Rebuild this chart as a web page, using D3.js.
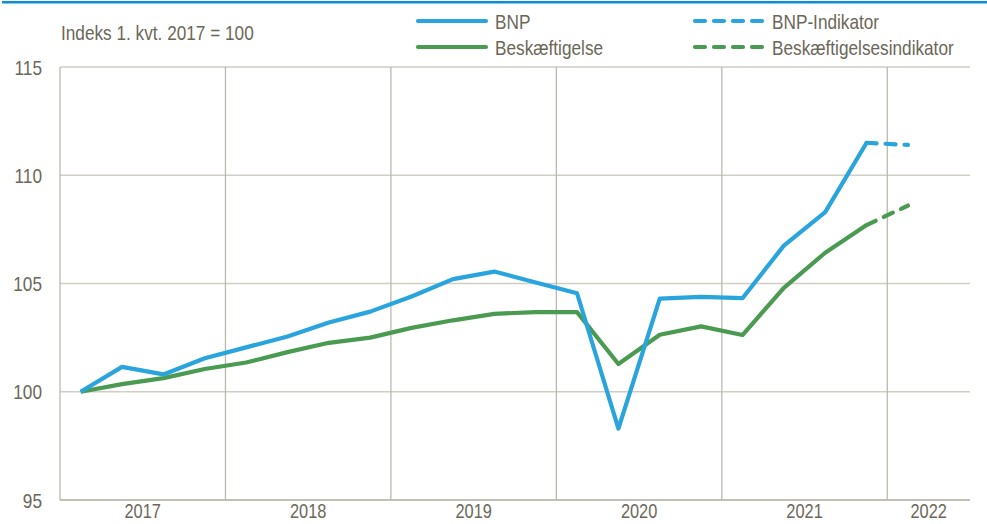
<!DOCTYPE html>
<html>
<head>
<meta charset="utf-8">
<script src="https://cdn.jsdelivr.net/npm/d3@7"></script>
<style>
  body { margin: 0; background: #fff; }
  svg text { font-family: "Liberation Sans", Arial, sans-serif; fill: #6b6758; font-size: 21px; }
</style>
</head>
<body>
<div class="chart"></div>
<script>
// quarters 2017K1 .. 2022K2 (last two only in 2022)
const quarters = ['2017K1','2017K2','2017K3','2017K4','2018K1','2018K2','2018K3','2018K4',
  '2019K1','2019K2','2019K3','2019K4','2020K1','2020K2','2020K3','2020K4',
  '2021K1','2021K2','2021K3','2021K4','2022K1','2022K2'];
const years = ['2017','2018','2019','2020','2021','2022'];
const yTicks = [95, 100, 105, 110, 115];

const bnp = [100, 101.15, 100.8, 101.55, 102.05, 102.55, 103.2, 103.7,
  104.4, 105.2, 105.55, 105.05, 104.55, 98.3, 104.3, 104.38,
  104.32, 106.75, 108.3, 111.5];
const beskaeft = [100, 100.35, 100.63, 101.05, 101.35, 101.83, 102.26, 102.5,
  102.95, 103.3, 103.6, 103.68, 103.68, 101.28, 102.63, 103.02,
  102.62, 104.8, 106.42, 107.7];
// indikatorer: 2021K4 -> 2022K1
const bnpInd = [111.5, 111.4];
const beskaeftInd = [107.7, 108.6];
const indStart = 19;

const W = 987, H = 524;
const margin = { top: 67, right: 17, bottom: 24, left: 60 };
const blue = '#29a4dd', green = '#4a9a52';
const squeeze = 0.82; // reference uses a narrow font

const svg = d3.select('.chart').append('svg')
  .attr('width', W).attr('height', H);

svg.append('rect').attr('x', 2).attr('y', 1).attr('width', W - 2).attr('height', 2.5)
  .attr('fill', '#0d8fd1');

const x = d3.scaleBand()
  .domain(quarters)
  .range([margin.left, W - margin.right]);

const y = d3.scaleLinear()
  .domain([95, 115])
  .range([H - margin.bottom, margin.top]);

const tr = (tx, ty) => `translate(${tx},${ty}) scale(${squeeze},1)`;

// horizontal grid
svg.append('g').selectAll('line')
  .data(yTicks)
  .enter().append('line')
  .attr('x1', margin.left).attr('x2', W - margin.right)
  .attr('y1', d => y(d)).attr('y2', d => y(d))
  .attr('stroke', d => d === 95 ? '#aeab9c' : '#cfcdc4')
  .attr('stroke-width', 1.3);

// vertical year separators
const yearStarts = quarters.filter(q => q.endsWith('K1'));
svg.append('g').selectAll('line')
  .data(yearStarts)
  .enter().append('line')
  .attr('x1', d => x(d)).attr('x2', d => x(d))
  .attr('y1', y(115)).attr('y2', y(95))
  .attr('stroke', '#bcb9ac')
  .attr('stroke-width', 1.3);

// y labels
svg.append('g').selectAll('text')
  .data(yTicks)
  .enter().append('text')
  .attr('transform', d => tr(42, y(d)))
  .attr('dy', '0.36em')
  .attr('text-anchor', 'end')
  .text(d => d);

// year labels at band centres
svg.append('g').selectAll('text')
  .data(years)
  .enter().append('text')
  .attr('transform', d => {
    const qs = quarters.filter(q => q.startsWith(d));
    return tr((x(qs[0]) + x(qs[qs.length - 1]) + x.bandwidth()) / 2, 518);
  })
  .attr('text-anchor', 'middle')
  .style('font-size', '20px')
  .text(d => d);

svg.append('text')
  .attr('transform', tr(61, 40))
  .text('Indeks 1. kvt. 2017 = 100');

const line = d3.line()
  .x(d => x(d.q) + x.bandwidth() / 2)
  .y(d => y(d.v));

function toPts(vals, offset) {
  return vals.map((v, i) => ({ q: quarters[i + offset], v: v }));
}

const series = [
  { vals: beskaeft, off: 0, color: green, dash: null },
  { vals: bnp, off: 0, color: blue, dash: null },
  { vals: beskaeftInd, off: indStart, color: green, dash: '10,9' },
  { vals: bnpInd, off: indStart, color: blue, dash: '10,9' }
];

svg.append('g').selectAll('path')
  .data(series)
  .enter().append('path')
  .attr('d', d => line(toPts(d.vals, d.off)))
  .attr('fill', 'none')
  .attr('stroke', d => d.color)
  .attr('stroke-width', 4.2)
  .attr('stroke-linejoin', 'round')
  .attr('stroke-linecap', d => d.dash ? 'round' : 'butt')
  .attr('stroke-dasharray', d => d.dash);

// legend
const legend = [
  { label: 'BNP', color: blue, dash: null, lx: 418, ly: 21 },
  { label: 'Beskæftigelse', color: green, dash: null, lx: 418, ly: 47 },
  { label: 'BNP-Indikator', color: blue, dash: '10,9', lx: 695, ly: 21 },
  { label: 'Beskæftigelsesindikator', color: green, dash: '10,9', lx: 695, ly: 47 }
];
const lg = svg.append('g').selectAll('g')
  .data(legend)
  .enter().append('g');
lg.append('line')
  .attr('x1', d => d.lx).attr('x2', d => d.lx + 68)
  .attr('y1', d => d.ly).attr('y2', d => d.ly)
  .attr('stroke', d => d.color)
  .attr('stroke-width', 4.2)
  .attr('stroke-linecap', 'round')
  .attr('stroke-dasharray', d => d.dash);
lg.append('text')
  .attr('transform', d => tr(d.lx + 77, d.ly))
  .attr('dy', '0.36em')
  .text(d => d.label);
</script>
</body>
</html>
